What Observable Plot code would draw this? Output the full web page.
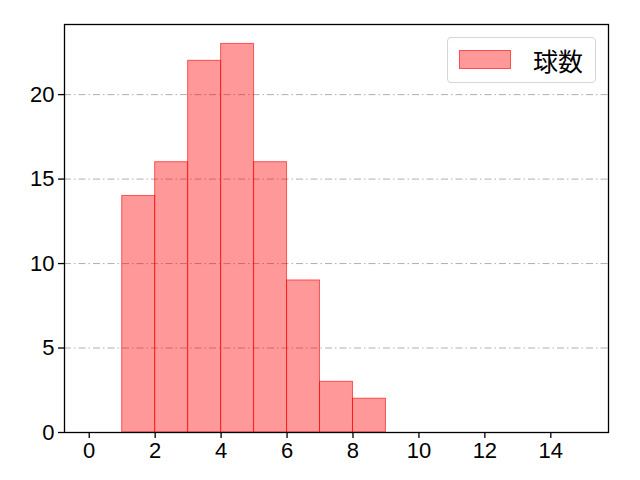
<!DOCTYPE html>
<html><head><meta charset="utf-8">
<script src="https://cdn.jsdelivr.net/npm/d3@7"></script>
<script src="https://cdn.jsdelivr.net/npm/@observablehq/plot@0.6"></script>
<style>
body{margin:0;background:#fff;}
#wrap{position:relative;width:640px;height:480px;font-family:"Noto Sans CJK JP","DejaVu Sans",sans-serif;}
#legend{position:absolute;left:447px;top:37px;width:149px;height:46px;border:1px solid #d6d6d6;border-radius:4px;background:rgba(255,255,255,0.8);box-sizing:border-box;}
#legend .sw{position:absolute;left:11px;top:12px;width:52px;height:19px;background:rgba(255,0,0,0.4);border:1px solid rgba(255,0,0,0.5);box-sizing:border-box;}
#legend .lb{position:absolute;left:85px;top:6px;font-size:25px;line-height:32px;color:#000;}
</style></head>
<body><div id="wrap"><div id="legend"><div class="sw"></div><div class="lb">球数</div></div></div>
<script>
const binStarts = [1,2,3,4,5,6,7,8];
const counts = [14,16,22,23,16,9,3,2];
const xTicks = [0,2,4,6,8,10,12,14];
const yTicks = [0,5,10,15,20];
const gridY = [5,10,15,20];
const seriesName = "球数";
const data = binStarts.map((b,i)=>({x1:b,x2:b+1,y:counts[i]}));
const chart = Plot.plot({
  width:640,height:480,
  marginLeft:64,marginRight:32,marginTop:24,marginBottom:48,
  style:{fontFamily:'"Liberation Sans",sans-serif',fontSize:"22px",color:"#000",background:"#fff"},
  x:{domain:[-0.75,15.75]},
  y:{domain:[0,24.15]},
  marks:[
    Plot.ruleY(gridY,{stroke:"#b0b0b0",strokeWidth:1,strokeDasharray:"7,3,1.5,3"}),
    Plot.rectY(data,{x1:"x1",x2:"x2",y:"y",fill:"#ff0000",fillOpacity:0.4,stroke:"#ff0000",strokeOpacity:0.6,strokeWidth:1}),
    Plot.axisX({ticks:xTicks,tickSize:6,tickPadding:4,label:null,fontSize:22,tickFormat:d=>String(d),strokeWidth:1.3}),
    Plot.axisY({ticks:yTicks,tickSize:6,tickPadding:4,label:null,fontSize:22,tickFormat:d=>String(d),strokeWidth:1.3}),
    Plot.frame({stroke:"#000",strokeWidth:1.3})
  ]
});
document.getElementById("wrap").prepend(chart);
chart.style.position="absolute";chart.style.left="0";chart.style.top="0";
</script></body></html>
